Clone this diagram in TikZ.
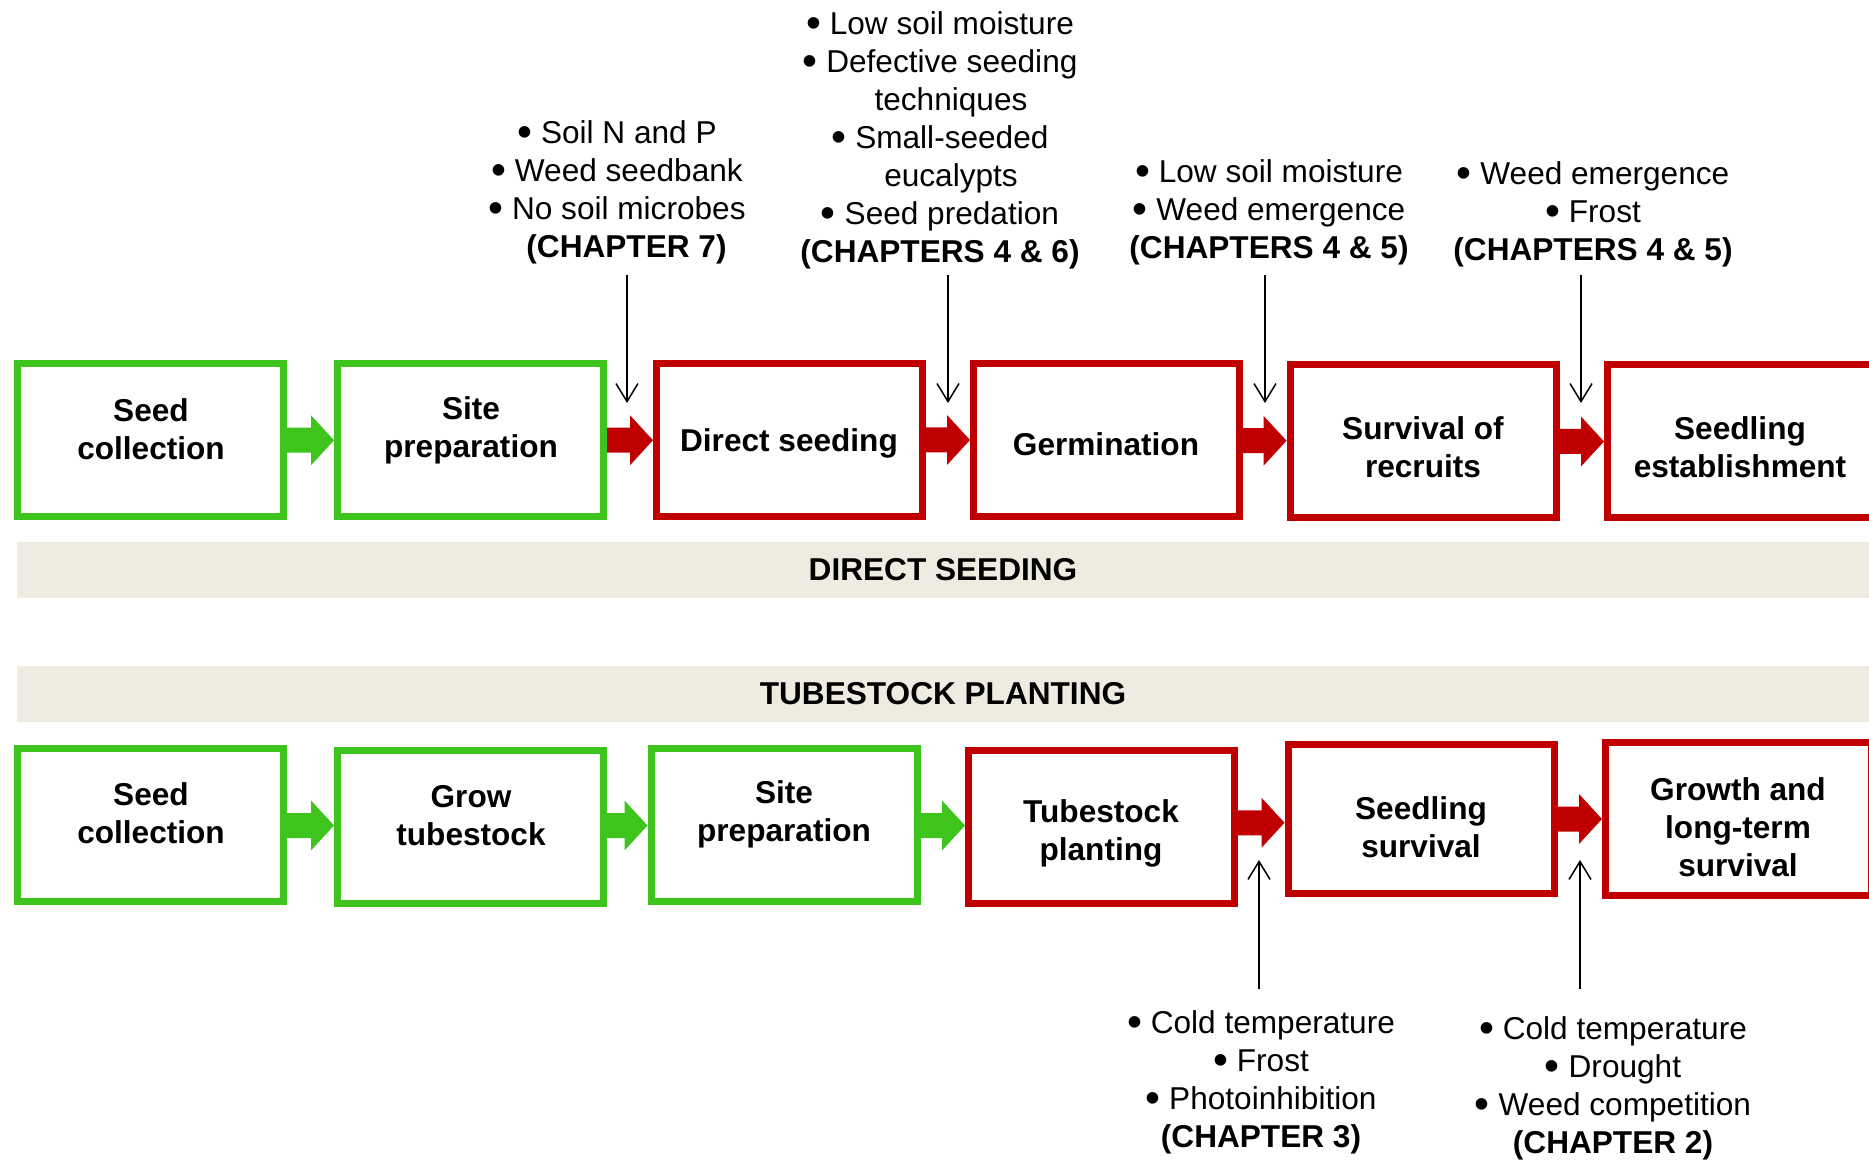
\documentclass[tikz,border=0pt]{standalone}
\usepackage{fontspec}
\usepackage{graphicx}
\setmainfont{Liberation Sans}
\usetikzlibrary{calc,arrows.meta}
\definecolor{boxgreen}{HTML}{3EC41C}
\definecolor{boxred}{HTML}{C00000}
\definecolor{bandbg}{HTML}{EEEBE0}
\newcommand{\bul}{\raisebox{-0.1em}{\scalebox{1.35}{•}}}
\newcommand{\blockarr}[3]{%
  \fill[#3] let \p1=(#1.east), \p2=(#2.west), \p3=($(\p1)!0.5!(\p2)$) in
    (\x1,\y3+6.25pt) -- (\x2-11.5pt,\y3+6.25pt) -- (\x2-11.5pt,\y3+12.5pt) -- (\x2,\y3)
    -- (\x2-11.5pt,\y3-12.5pt) -- (\x2-11.5pt,\y3-6.25pt) -- (\x1,\y3-6.25pt) -- cycle;}
\begin{document}
\begin{tikzpicture}[x=0.5pt,y=-0.5pt,
  boxbase/.style={draw, line width=3.5pt, fill=white, minimum width=133pt, minimum height=76.5pt, inner sep=0pt},
  gbox/.style={boxbase, draw=boxgreen},
  rbox/.style={boxbase, draw=boxred},
  boxtxt/.style={font=\fontsize{15.8}{19}\selectfont\bfseries, align=center, inner sep=0pt},
  band/.style={fill=bandbg, minimum width=926pt, minimum height=28pt, inner sep=0pt, font=\fontsize{15.8}{19}\selectfont\bfseries},
  grp/.style={font=\fontsize{15.8}{19}\selectfont, align=center, inner sep=0pt},
  thinarr/.style={draw=black, line width=0.75pt, -{Straight Barb[length=9pt,width=11pt]}}
]
\useasboundingbox (0,0) rectangle (1869,1160);
\clip (0,0) rectangle (1869,1160);

% bands
\node[band] (bandds) at (943,570) {DIRECT SEEDING};
\node[band] (bandtp) at (943,693.5) {TUBESTOCK PLANTING};

% top row
\node[gbox] (t1) at (150.5,440) {};
\node[gbox] (t2) at (470.5,440.5) {};
\node[rbox] (t3) at (789.5,440) {};
\node[rbox] (t4) at (1106.5,440) {};
\node[rbox] (t5) at (1423,441.5) {};
\node[rbox] (t6) at (1740.5,441.5) {};
\node[boxtxt] (t1t) at (151,429) {Seed\\collection};
\node[boxtxt] (t2t) at (471,430) {Site\\preparation};
\node[boxtxt] (t3t) at (789,443) {Direct seeding};
\node[boxtxt] (t4t) at (1106,444) {Germination};
\node[boxtxt] (t5t) at (1423,447) {Survival of\\recruits};
\node[boxtxt] (t6t) at (1740,447) {Seedling\\establishment};

% bottom row
\node[gbox] (b1) at (150.5,824.5) {};
\node[gbox] (b2) at (470.5,826.5) {};
\node[gbox] (b3) at (784,824.5) {};
\node[rbox] (b4) at (1101.5,826.5) {};
\node[rbox, minimum height=74.5pt] (b5) at (1421,819) {};
\node[rbox] (b6) at (1738.5,819) {};
\node[boxtxt] (b1t) at (151,813) {Seed\\collection};
\node[boxtxt] (b2t) at (471,816) {Grow\\tubestock};
\node[boxtxt] (b3t) at (784,814) {Site\\preparation};
\node[boxtxt] (b4t) at (1101,833) {Tubestock\\planting};
\node[boxtxt] (b5t) at (1421,827) {Seedling\\survival};
\node[boxtxt] (b6t) at (1738,827) {Growth and\\long-term\\survival};

% block arrows
\blockarr{t1}{t2}{boxgreen}
\blockarr{t2}{t3}{boxred}
\blockarr{t3}{t4}{boxred}
\blockarr{t4}{t5}{boxred}
\blockarr{t5}{t6}{boxred}
\blockarr{b1}{b2}{boxgreen}
\blockarr{b2}{b3}{boxgreen}
\blockarr{b3}{b4}{boxgreen}
\blockarr{b4}{b5}{boxred}
\blockarr{b5}{b6}{boxred}

% factor groups
\node[grp] (g1) at (617,192.5) {\bul\ Soil N and P\\\bul\ Weed seedbank\\\bul\ No soil microbes\\\hspace*{9.5pt}\textbf{(CHAPTER 7)}};
\node[grp] (g2) at (940,140) {\bul\ Low soil moisture\\\bul\ Defective seeding\\\hspace*{11pt}techniques\\\bul\ Small-seeded\\\hspace*{11pt}eucalypts\\\bul\ Seed predation\\\textbf{(CHAPTERS 4 \& 6)}};
\node[grp] (g3) at (1269,212) {\bul\ Low soil moisture\\\bul\ Weed emergence\\\textbf{(CHAPTERS 4 \& 5)}};
\node[grp] (g4) at (1593,214) {\bul\ Weed emergence\\\bul\ Frost\\\textbf{(CHAPTERS 4 \& 5)}};
\node[grp] (g5) at (1261,1082.5) {\bul\ Cold temperature\\\bul\ Frost\\\bul\ Photoinhibition\\\textbf{(CHAPTER 3)}};
\node[grp] (g6) at (1613,1088.5) {\bul\ Cold temperature\\\bul\ Drought\\\bul\ Weed competition\\\textbf{(CHAPTER 2)}};

% thin arrows
\coordinate (s1) at (627,275); \coordinate (e1) at (627,403);
\coordinate (s2) at (948,275); \coordinate (e2) at (948,403);
\coordinate (s3) at (1265,275); \coordinate (e3) at (1265,403);
\coordinate (s4) at (1581,275); \coordinate (e4) at (1581,403);
\coordinate (s5) at (1259,989); \coordinate (e5) at (1259,860);
\coordinate (s6) at (1580,989); \coordinate (e6) at (1580,860);
\draw[thinarr] (s1) -- (e1);
\draw[thinarr] (s2) -- (e2);
\draw[thinarr] (s3) -- (e3);
\draw[thinarr] (s4) -- (e4);
\draw[thinarr] (s5) -- (e5);
\draw[thinarr] (s6) -- (e6);
\end{tikzpicture}
\end{document}
